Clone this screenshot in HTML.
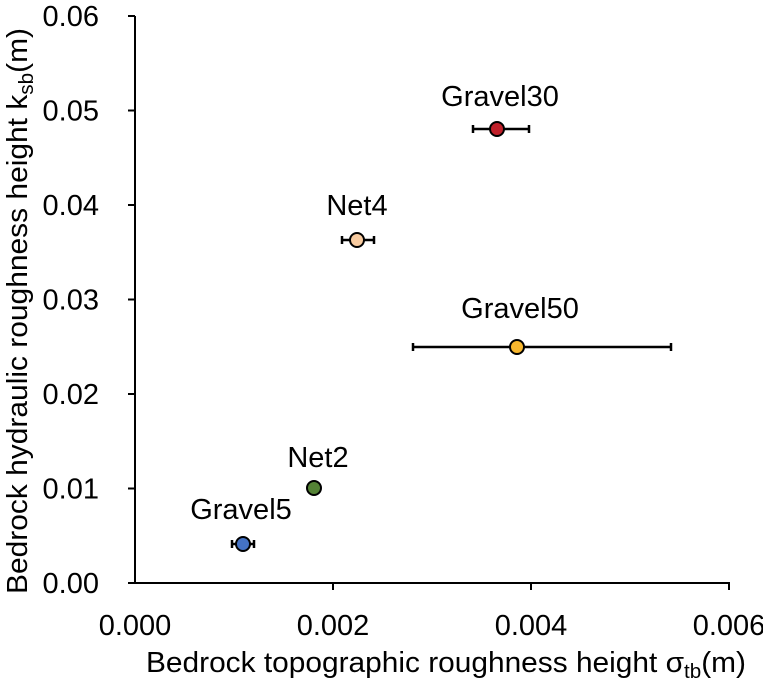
<!DOCTYPE html>
<html><head><meta charset="utf-8"><style>
html,body{margin:0;padding:0;background:#fff;}
svg{display:block;font-family:"Liberation Sans",Arial,sans-serif;}
</style></head><body>
<svg width="763" height="680" viewBox="0 0 763 680">
<g stroke="#000" stroke-width="2" fill="none">
<line x1="135" y1="16" x2="135" y2="584"/>
<line x1="128" y1="583" x2="730" y2="583"/>
<line x1="128" y1="16" x2="135" y2="16"/>
<line x1="128" y1="110.5" x2="135" y2="110.5"/>
<line x1="128" y1="205" x2="135" y2="205"/>
<line x1="128" y1="299.5" x2="135" y2="299.5"/>
<line x1="128" y1="394" x2="135" y2="394"/>
<line x1="128" y1="488.5" x2="135" y2="488.5"/>
<line x1="333" y1="583" x2="333" y2="590"/>
<line x1="531" y1="583" x2="531" y2="590"/>
<line x1="729" y1="583" x2="729" y2="590"/>
</g>
<g font-size="29" fill="#000" text-anchor="end">
<text x="99" y="26">0.06</text>
<text x="99" y="120.5">0.05</text>
<text x="99" y="215">0.04</text>
<text x="99" y="309.5">0.03</text>
<text x="99" y="404">0.02</text>
<text x="99" y="498.5">0.01</text>
<text x="99" y="593">0.00</text>
</g>
<g font-size="29" fill="#000" text-anchor="middle">
<text x="135" y="635">0.000</text>
<text x="333" y="635">0.002</text>
<text x="531" y="635">0.004</text>
<text x="729" y="635">0.006</text>
<text x="446" y="672" textLength="600" lengthAdjust="spacingAndGlyphs">Bedrock topographic roughness height σ<tspan font-size="20" dy="6">tb</tspan><tspan dy="-6">(m)</tspan></text>
<text transform="translate(27,311) rotate(-90)" textLength="566" lengthAdjust="spacingAndGlyphs">Bedrock hydraulic roughness height k<tspan font-size="20" dy="6">sb</tspan><tspan dy="-6">(m)</tspan></text>
</g>
<g stroke="#000" stroke-width="2.5">
<line x1="232" y1="544" x2="254" y2="544"/><line x1="232" y1="540" x2="232" y2="548"/><line x1="254" y1="540" x2="254" y2="548"/>
<line x1="308" y1="488" x2="320" y2="488"/>
<line x1="342" y1="240" x2="374" y2="240"/><line x1="342" y1="236" x2="342" y2="244"/><line x1="374" y1="236" x2="374" y2="244"/>
<line x1="473" y1="129" x2="529" y2="129"/><line x1="473" y1="125" x2="473" y2="133"/><line x1="529" y1="125" x2="529" y2="133"/>
<line x1="413" y1="347" x2="671" y2="347"/><line x1="413" y1="343" x2="413" y2="351"/><line x1="671" y1="343" x2="671" y2="351"/>
</g>
<g stroke="#000" stroke-width="2">
<circle cx="243" cy="544" r="7" fill="#4472c4"/>
<circle cx="314" cy="488" r="7" fill="#548235"/>
<circle cx="357" cy="240" r="7" fill="#f8cba0"/>
<circle cx="497" cy="129" r="7" fill="#c0202a"/>
<circle cx="517" cy="347" r="7" fill="#f7b72e"/>
</g>
<g font-size="29" fill="#000" text-anchor="middle">
<text x="241" y="519">Gravel5</text>
<text x="318" y="467">Net2</text>
<text x="357" y="215">Net4</text>
<text x="500" y="106">Gravel30</text>
<text x="520" y="318">Gravel50</text>
</g>
</svg>
</body></html>
